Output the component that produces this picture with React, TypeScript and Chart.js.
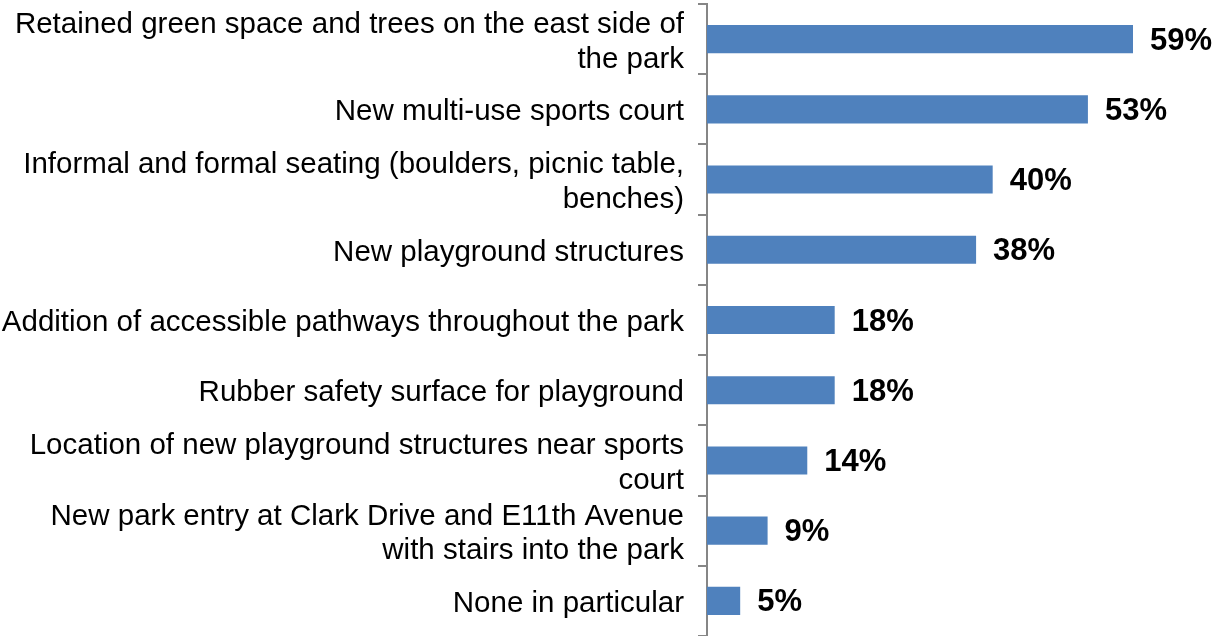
import React, { useEffect, useRef } from "react";
import { Chart, registerables } from "chart.js";

Chart.register(...registerables);

const categories: (string | string[])[] = [
  ["Retained green space and trees on the east side of", "the park"],
  "New multi-use sports court",
  ["Informal and formal seating (boulders, picnic table,", "benches)"],
  "New playground structures",
  "Addition of accessible pathways throughout the park",
  "Rubber safety surface for playground",
  ["Location of new playground structures near sports", "court"],
  ["New park entry at Clark Drive and E11th Avenue", "with stairs into the park"],
  "None in particular",
];

const shares: number[] = [59.05, 52.8, 39.6, 37.3, 17.7, 17.7, 13.9, 8.4, 4.6];
const shareLabels: string[] = ["59%", "53%", "40%", "38%", "18%", "18%", "14%", "9%", "5%"];

const FONT = '"Liberation Sans", Arial, sans-serif';

const valueLabelPlugin = {
  id: "valueLabels",
  afterDatasetsDraw(chart: any) {
    const ctx = chart.ctx;
    const meta = chart.getDatasetMeta(0);
    ctx.save();
    ctx.font = `bold 31px ${FONT}`;
    ctx.fillStyle = "#000000";
    ctx.textAlign = "left";
    ctx.textBaseline = "middle";
    meta.data.forEach((bar: any, i: number) => {
      ctx.fillText(shareLabels[i], bar.x + 17, bar.y + 2);
    });
    ctx.restore();
  },
};

export default function App() {
  const canvasRef = useRef<HTMLCanvasElement | null>(null);

  useEffect(() => {
    if (!canvasRef.current) return;
    const chart = new Chart(canvasRef.current, {
      type: "bar",
      data: {
        labels: categories,
        datasets: [
          {
            data: shares,
            backgroundColor: "#4F81BD",
            borderWidth: 0,
            categoryPercentage: 1,
            barPercentage: 0.4,
          },
        ],
      },
      options: {
        indexAxis: "y",
        animation: false,
        responsive: false,
        maintainAspectRatio: false,
        layout: { padding: { top: 4, right: 5, bottom: 0, left: 0 } },
        plugins: {
          legend: { display: false },
          tooltip: { enabled: false },
        },
        scales: {
          x: {
            display: false,
            min: 0,
            max: 70,
          },
          y: {
            afterFit(scale: any) {
              scale.width = 707;
              scale.paddingTop = 0;
              scale.paddingBottom = 0;
            },
            grid: {
              offset: true,
              drawOnChartArea: false,
              drawTicks: true,
              tickLength: 9,
              color: "#868686",
              lineWidth: 2,
            },
            border: { display: true, color: "#868686", width: 2 },
            ticks: {
              padding: 14,
              labelOffset: 3,
              color: "#000000",
              font: { family: FONT, size: 29.5, lineHeight: 1.17 },
              autoSkip: false,
            },
          },
        },
      },
      plugins: [valueLabelPlugin],
    });
    return () => chart.destroy();
  }, []);

  return (
    <div style={{ position: "absolute", left: 0, top: 0, width: 1217, height: 636, background: "#fff" }}>
      <canvas ref={canvasRef} width={1217} height={636} style={{ display: "block" }} />
    </div>
  );
}
